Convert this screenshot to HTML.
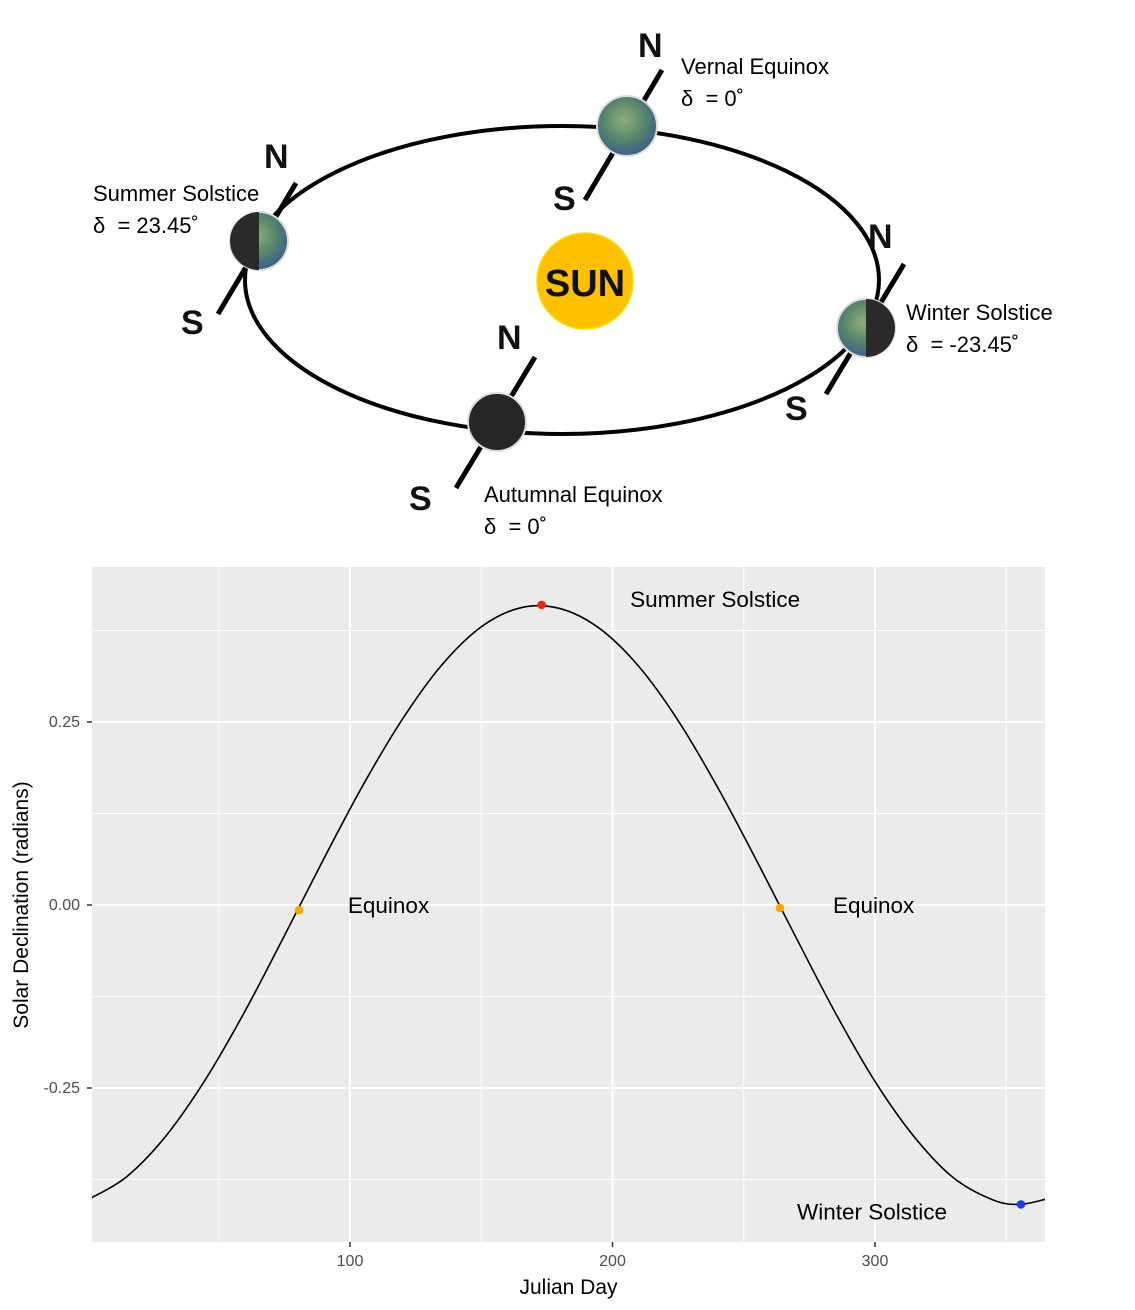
<!DOCTYPE html>
<html><head><meta charset="utf-8"><style>
html,body{margin:0;padding:0;background:#fff;width:1135px;height:1310px;overflow:hidden}
svg{display:block}
</style></head><body>
<svg width="1135" height="1310" viewBox="0 0 1135 1310">
<defs>
<radialGradient id="earth" cx="0.45" cy="0.4" r="0.6">
<stop offset="0" stop-color="#8fae7a"/><stop offset="0.5" stop-color="#5c8a6a"/><stop offset="1" stop-color="#3b5f8a"/>
</radialGradient>
</defs>
<g>
<ellipse cx="562" cy="280" rx="317" ry="154" fill="none" stroke="#000" stroke-width="4"/>
<circle cx="585" cy="281" r="48" fill="#ffc000" stroke="#f5e000" stroke-width="1.5"/>
<text x="585" y="296" text-anchor="middle" font-family="Liberation Sans,sans-serif" font-weight="bold" font-size="38" fill="#111">SUN</text>

<g>
<line x1="662" y1="70" x2="585" y2="200" stroke="#000" stroke-width="5"/>
<circle cx="627" cy="126" r="30" fill="url(#earth)" stroke="#ddd" stroke-width="2"/>
</g>
<g>
<line x1="296" y1="183" x2="218" y2="314" stroke="#000" stroke-width="5"/>
<circle cx="259" cy="241" r="29" fill="url(#earth)" stroke="#ddd" stroke-width="2"/>
<path d="M259,212 A29,29 0 0,0 259,270 Z" fill="#2a2a2a"/>
</g>
<g>
<line x1="904" y1="264" x2="826" y2="394" stroke="#000" stroke-width="5"/>
<circle cx="866" cy="328" r="29" fill="url(#earth)" stroke="#ddd" stroke-width="2"/>
<path d="M866,299 A29,29 0 0,1 866,357 Z" fill="#2a2a2a"/>
</g>
<g>
<line x1="535" y1="357" x2="456" y2="488" stroke="#000" stroke-width="5"/>
<circle cx="497" cy="422" r="29" fill="#262626" stroke="#ddd" stroke-width="2"/>
</g>
<g font-family="Liberation Sans,sans-serif" font-weight="bold" font-size="34" fill="#111">
<text x="638" y="57">N</text><text x="553" y="210">S</text>
<text x="264" y="168">N</text><text x="181" y="334">S</text>
<text x="868" y="248">N</text><text x="785" y="420">S</text>
<text x="497" y="349">N</text><text x="409" y="510">S</text>
</g>
<g font-family="Liberation Sans,sans-serif" font-size="22" fill="#000">
<text x="681" y="74">Vernal Equinox</text>
<text x="681" y="106">δ &#160;= 0˚</text>
<text x="93" y="201">Summer Solstice</text>
<text x="93" y="233">δ &#160;= 23.45˚</text>
<text x="906" y="320">Winter Solstice</text>
<text x="906" y="352">δ &#160;= -23.45˚</text>
<text x="484" y="502">Autumnal Equinox</text>
<text x="484" y="534">δ &#160;= 0˚</text>
</g>
</g>
<g id="chart"></g>
</svg>
<script>
const days=[1,15,30,45,60,75,90,105,120,135,150,165,180,195,210,225,240,255,270,285,300,315,330,345,355,365];
const decl=[-0.401,-0.371,-0.315,-0.238,-0.145,-0.042,0.063,0.164,0.254,0.328,0.380,0.406,0.405,0.378,0.326,0.252,0.161,0.060,-0.045,-0.148,-0.241,-0.317,-0.373,-0.403,-0.409,-0.402];
const pointDays=[80.6,173,263.8,355.6];
const pointVals=[-0.007,0.41,-0.004,-0.409];
const pointColors=['#ffa500','#ff2200','#ffa500','#1a3cff'];
const labelText=['Equinox','Summer Solstice','Equinox','Winter Solstice'];
const labelDays=[99.2,206.7,284,270.3];
const labelVals=[0.0,0.418,0.0,-0.419];
const xTicks=[100,200,300];
const xMinor=[50,150,250,350];
const yTicks=[-0.25,0,0.25];
const yTickLabels=['-0.25','0.00','0.25'];
const yMinor=[-0.375,-0.125,0.125,0.375];

const NS='http://www.w3.org/2000/svg';
const L=92,R=1045,T=567,B=1242;
const xs=d=>350+(d-100)*2.625;
const ys=v=>905-v*732;
const g=document.getElementById('chart');
function mk(tag,attrs,parent){const e=document.createElementNS(NS,tag);for(const k in attrs)e.setAttribute(k,attrs[k]);(parent||g).appendChild(e);return e;}
const bg=mk('rect',{x:L,y:T,width:R-L,height:B-T,fill:'#ebebeb'});


xMinor.forEach(d=>{const l=mk('line',{x1:xs(d),x2:xs(d),y1:T,y2:B,stroke:'#fff','stroke-width':1});

});
yMinor.forEach(v=>{const l=mk('line',{x1:L,x2:R,y1:ys(v),y2:ys(v),stroke:'#fff','stroke-width':1});

});
xTicks.forEach(d=>{const l=mk('line',{x1:xs(d),x2:xs(d),y1:T,y2:B,stroke:'#fff','stroke-width':2});


const t=mk('line',{x1:xs(d),x2:xs(d),y1:B,y2:B+5,stroke:'#333','stroke-width':1.5});


const tx=mk('text',{x:xs(d),y:B+24,'text-anchor':'middle','font-family':'Liberation Sans,sans-serif','font-size':16,fill:'#4d4d4d'});tx.textContent=d;

});
yTicks.forEach((v,i)=>{const l=mk('line',{x1:L,x2:R,y1:ys(v),y2:ys(v),stroke:'#fff','stroke-width':2});


const t=mk('line',{x1:L-5,x2:L,y1:ys(v),y2:ys(v),stroke:'#333','stroke-width':1.5});


const tx=mk('text',{x:L-12,y:ys(v)+5,'text-anchor':'end','font-family':'Liberation Sans,sans-serif','font-size':16,fill:'#4d4d4d'});tx.textContent=yTickLabels[i];

});
const P=days.map((d,i)=>[xs(d),ys(decl[i])]);
let dstr='M'+P[0][0]+','+P[0][1];
for(let i=0;i<P.length-1;i++){const p0=P[Math.max(0,i-1)],p1=P[i],p2=P[i+1],p3=P[Math.min(P.length-1,i+2)];
const c1=[p1[0]+(p2[0]-p0[0])/6,p1[1]+(p2[1]-p0[1])/6],c2=[p2[0]-(p3[0]-p1[0])/6,p2[1]-(p3[1]-p1[1])/6];
dstr+=' C'+c1+' '+c2+' '+p2;}
const clip=mk('clipPath',{id:'pc'});mk('rect',{x:L,y:T,width:R-L,height:B-T},clip);
const line=mk('path',{d:dstr,fill:'none',stroke:'#000','stroke-width':1.6,'clip-path':'url(#pc)'});


pointDays.forEach((d,i)=>{const c=mk('circle',{cx:xs(d),cy:ys(pointVals[i]),r:4.3,fill:pointColors[i]});


const t=mk('text',{x:xs(labelDays[i]),y:ys(labelVals[i])+8,'font-family':'Liberation Sans,sans-serif','font-size':22.5,fill:'#000'});t.textContent=labelText[i];

});
const xt=mk('text',{x:(L+R)/2,y:1294,'text-anchor':'middle','font-family':'Liberation Sans,sans-serif','font-size':21,fill:'#000'});xt.textContent='Julian Day';


const yt=mk('text',{x:0,y:0,transform:'translate(28,905) rotate(-90)','text-anchor':'middle','font-family':'Liberation Sans,sans-serif','font-size':21,fill:'#000'});yt.textContent='Solar Declination (radians)';


</script>
</body></html>
